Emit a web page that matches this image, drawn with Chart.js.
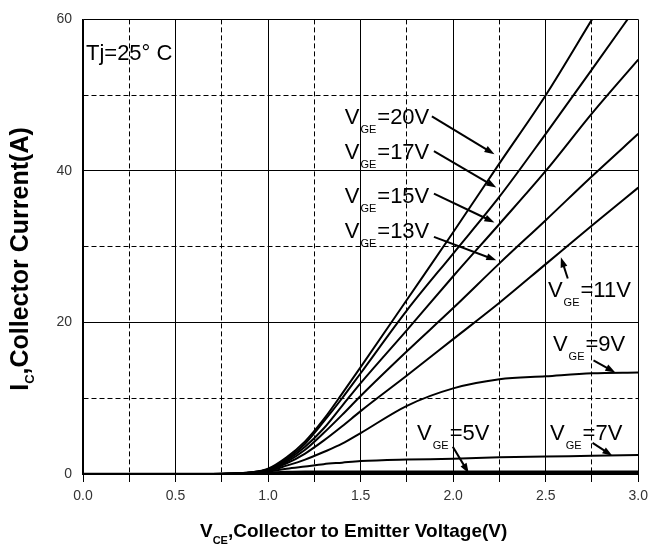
<!DOCTYPE html>
<html>
<head>
<meta charset="utf-8">
<script src="https://cdn.jsdelivr.net/npm/chart.js@4"></script>
<style>
  body { margin: 0; background: #fff; }
</style>
</head>
<body>
<canvas id="ic" width="654" height="548"></canvas>
<script>
// VCE (V) sample points, shared by all curves
const vce  = [0, 0.7, 0.8, 0.9, 1.0, 1.1, 1.2, 1.3, 1.4, 1.5, 1.75, 2.0, 2.25, 2.5, 2.75, 3.0];
// IC (A) per gate voltage
const ic20 = [0, 0, 0.05, 0.2, 0.7, 2.2, 4.3, 7.2, 10.6, 14.1, 23.0, 31.9, 41.0, 50.0, 60.0, 70.0];
const ic17 = [0, 0, 0.05, 0.2, 0.6, 2.0, 4.0, 6.9, 10.0, 13.3, 21.6, 29.1, 36.6, 44.9, 53.4, 62.0];
const ic15 = [0, 0, 0.04, 0.18, 0.6, 1.8, 3.6, 6.0, 9.0, 12.0, 19.0, 26.1, 33.0, 40.0, 47.6, 54.7];
const ic13 = [0, 0, 0.04, 0.16, 0.5, 1.6, 3.2, 5.4, 7.8, 10.3, 16.2, 21.9, 27.8, 33.5, 39.3, 44.9];
const ic11 = [0, 0, 0.03, 0.15, 0.5, 1.4, 2.7, 4.4, 6.3, 8.3, 13.0, 17.8, 22.6, 27.7, 32.8, 37.8];
const ic9  = [0, 0, 0.03, 0.12, 0.4, 1.1, 1.9, 2.9, 4.0, 5.4, 9.0, 11.3, 12.5, 12.9, 13.3, 13.4];
const ic7  = [0, 0, 0.02, 0.1, 0.3, 0.7, 1.0, 1.3, 1.5, 1.7, 1.9, 2.0, 2.2, 2.3, 2.4, 2.5];
const ic5  = [0, 0, 0.01, 0.05, 0.15, 0.25, 0.3, 0.3, 0.3, 0.3, 0.3, 0.3, 0.3, 0.3, 0.3, 0.3];

const gateVolts = ['20', '17', '15', '13', '11', '9', '7', '5'];
const gateSeries = [ic20, ic17, ic15, ic13, ic11, ic9, ic7, ic5];

// label anchors (left of "V", baseline) and arrows, in data units
const gateLabels = [
  { v: '20', x: 1.414, y: 46.2, a: [1.885, 47.2, 2.223, 42.2] },
  { v: '17', x: 1.414, y: 41.6, a: [1.896, 42.6, 2.233, 37.8] },
  { v: '15', x: 1.414, y: 35.8, a: [1.896, 37.0, 2.223, 33.2] },
  { v: '13', x: 1.414, y: 31.1, a: [1.896, 31.3, 2.233, 28.2] },
  { v: '11', x: 2.512, y: 23.3, a: [2.619, 25.8, 2.582, 28.6] },
  { v: '9',  x: 2.539, y: 16.3, a: [2.758, 15.0, 2.876, 13.4] },
  { v: '5',  x: 1.805, y: 4.5,  a: [1.998, 3.6, 2.084, 0.1] },
  { v: '7',  x: 2.523, y: 4.5,  a: [2.753, 4.1, 2.860, 2.4] }
];

const FONT = '"Liberation Sans", Arial, sans-serif';

function arrow(ctx, x1, y1, x2, y2) {
  const ang = Math.atan2(y2 - y1, x2 - x1);
  const hl = 10, hw = 3.5;
  ctx.beginPath();
  ctx.moveTo(x1, y1);
  ctx.lineTo(x2 - Math.cos(ang) * hl * 0.8, y2 - Math.sin(ang) * hl * 0.8);
  ctx.stroke();
  ctx.beginPath();
  ctx.moveTo(x2, y2);
  ctx.lineTo(x2 - Math.cos(ang) * hl - Math.sin(ang) * hw, y2 - Math.sin(ang) * hl + Math.cos(ang) * hw);
  ctx.lineTo(x2 - Math.cos(ang) * hl + Math.sin(ang) * hw, y2 - Math.sin(ang) * hl - Math.cos(ang) * hw);
  ctx.closePath();
  ctx.fill();
}

const annotate = {
  id: 'annotate',
  beforeDraw(chart) {
    const ctx = chart.ctx;
    ctx.save();
    ctx.fillStyle = '#fff';
    ctx.fillRect(0, 0, chart.width, chart.height);
    ctx.restore();
  },
  afterDraw(chart) {
    const ctx = chart.ctx, xs = chart.scales.x, ys = chart.scales.y;
    ctx.save();
    ctx.fillStyle = '#000';
    ctx.strokeStyle = '#000';
    ctx.textBaseline = 'alphabetic';
    ctx.textAlign = 'left';

    // Tj label
    ctx.font = '22px ' + FONT;
    ctx.fillText('Tj=25\u00b0 C', xs.getPixelForValue(0.016), ys.getPixelForValue(54.6));

    // VGE labels + arrows
    ctx.lineWidth = 2;
    gateLabels.forEach(l => {
      let px = xs.getPixelForValue(l.x), py = ys.getPixelForValue(l.y);
      ctx.font = '22px ' + FONT;
      ctx.fillText('V', px, py);
      px += ctx.measureText('V').width + 1;
      ctx.font = '11px ' + FONT;
      ctx.fillText('GE', px, py + 9);
      px += ctx.measureText('GE').width + 1;
      ctx.font = '22px ' + FONT;
      ctx.fillText('=' + l.v + 'V', px, py);
      arrow(ctx, xs.getPixelForValue(l.a[0]), ys.getPixelForValue(l.a[1]),
                 xs.getPixelForValue(l.a[2]), ys.getPixelForValue(l.a[3]));
    });

    // x axis title with subscript
    let tx = 200, ty = 537;
    ctx.font = 'bold 19px ' + FONT;
    ctx.fillText('V', tx, ty);
    tx += ctx.measureText('V').width;
    ctx.font = 'bold 11px ' + FONT;
    ctx.fillText('CE', tx, ty + 7);
    tx += ctx.measureText('CE').width;
    ctx.font = 'bold 19px ' + FONT;
    ctx.fillText(',Collector to Emitter Voltage(V)', tx, ty);

    // y axis title, rotated
    ctx.translate(28, 259);
    ctx.rotate(-Math.PI / 2);
    const main = ',Collector Current(A)';
    ctx.font = 'bold 25px ' + FONT;
    const w1 = ctx.measureText('I').width;
    const w3 = ctx.measureText(main).width;
    ctx.font = 'bold 13px ' + FONT;
    const w2 = ctx.measureText('C').width;
    let sx = -(w1 + w2 + w3) / 2;
    ctx.font = 'bold 25px ' + FONT;
    ctx.fillText('I', sx, 0);
    sx += w1;
    ctx.font = 'bold 13px ' + FONT;
    ctx.fillText('C', sx, 6);
    sx += w2;
    ctx.font = 'bold 25px ' + FONT;
    ctx.fillText(main, sx, 0);
    ctx.restore();
  }
};

const isMajorX = v => Math.abs(v * 2 - Math.round(v * 2)) < 1e-6;
const isMajorY = v => v % 20 === 0;

new Chart(document.getElementById('ic'), {
  type: 'line',
  data: {
    datasets: gateSeries.map((s, i) => ({
      label: 'VGE=' + gateVolts[i] + 'V',
      data: vce.map((x, j) => ({ x: x, y: s[j] })),
      borderColor: '#000',
      borderWidth: gateVolts[i] === '5' ? 2.5 : 2,
      pointRadius: 0,
      cubicInterpolationMode: 'monotone',
      fill: false
    }))
  },
  options: {
    responsive: false,
    animation: false,
    layout: { padding: { top: 19, right: 11, left: 0, bottom: 0 } },
    plugins: { legend: { display: false }, tooltip: { enabled: false } },
    scales: {
      x: {
        type: 'linear',
        min: 0, max: 3,
        afterFit: s => { s.height = 74; },
        ticks: {
          stepSize: 0.25,
          autoSkip: false,
          maxRotation: 0,
          padding: 6,
          color: '#333',
          font: { family: FONT, size: 14 },
          callback: v => isMajorX(v) ? v.toFixed(1) : ''
        },
        grid: {
          color: '#000',
          lineWidth: 1,
          tickLength: 8,
          tickColor: '#000'
        },
        border: {
          color: '#000',
          width: 2,
          dash: c => (c.tick && !isMajorX(c.tick.value)) ? [5, 3] : []
        }
      },
      y: {
        min: 0, max: 60,
        afterFit: s => { s.width = 83; },
        ticks: {
          stepSize: 10,
          padding: 11,
          color: '#333',
          font: { family: FONT, size: 14 },
          callback: v => isMajorY(v) ? v : ''
        },
        grid: {
          color: '#000',
          lineWidth: 1,
          drawTicks: false
        },
        border: {
          color: '#000',
          width: 1.5,
          dash: c => (c.tick && !isMajorY(c.tick.value)) ? [5, 3] : []
        }
      }
    }
  },
  plugins: [annotate]
});
</script>
</body>
</html>
